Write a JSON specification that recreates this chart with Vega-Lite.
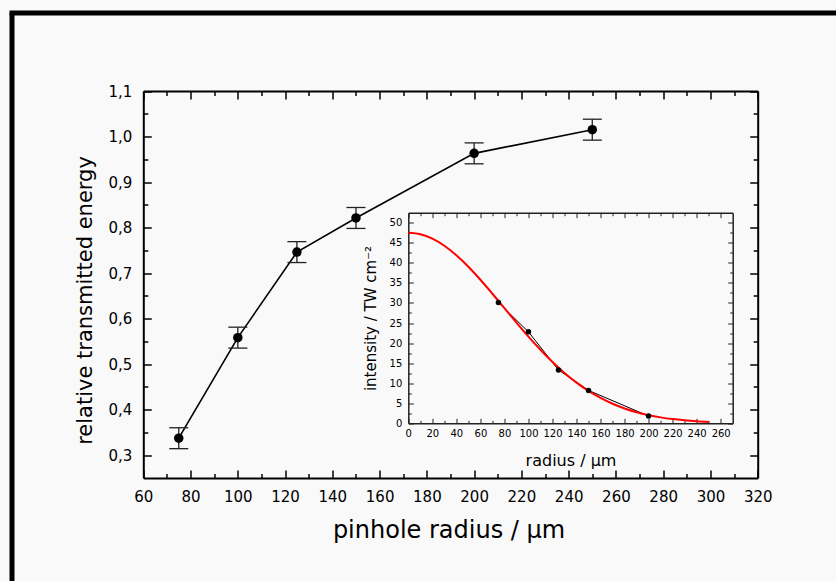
{
  "$schema": "https://vega.github.io/schema/vega-lite/v6.json",
  "width": 824.5,
  "height": 568.5,
  "autosize": {"type": "none"},
  "padding": {"left": 11.5, "top": 12.5, "right": 0, "bottom": 0},
  "background": "#f9f9f9",
  "config": {
    "view": {"stroke": null},
    "axis": {
      "grid": false,
      "labelFont": "DejaVu Sans",
      "titleFont": "DejaVu Sans",
      "titleFontWeight": "normal",
      "labelColor": "#000",
      "titleColor": "#000",
      "domainColor": "#000",
      "tickColor": "#000",
      "labelOverlap": false,
      "labelFlush": false
    }
  },
  "datasets": {
    "main": [
      {"r": 75, "e": 0.337, "lo": 0.314, "hi": 0.360},
      {"r": 100, "e": 0.558, "lo": 0.535, "hi": 0.581},
      {"r": 125, "e": 0.746, "lo": 0.723, "hi": 0.769},
      {"r": 150, "e": 0.821, "lo": 0.798, "hi": 0.844},
      {"r": 200, "e": 0.963, "lo": 0.940, "hi": 0.986},
      {"r": 250, "e": 1.015, "lo": 0.992, "hi": 1.038}
    ],
    "inset": [
      {"r": 75, "I": 30.1},
      {"r": 100, "I": 22.8},
      {"r": 125, "I": 13.3},
      {"r": 150, "I": 8.2},
      {"r": 200, "I": 1.8}
    ],
    "fit": [
      {"r": 0, "I": 47.5}, {"r": 10, "I": 47.13}, {"r": 20, "I": 46.03}, {"r": 30, "I": 44.25},
      {"r": 40, "I": 41.88}, {"r": 50, "I": 39.01}, {"r": 60, "I": 35.78}, {"r": 70, "I": 32.3},
      {"r": 80, "I": 28.7}, {"r": 90, "I": 25.1}, {"r": 100, "I": 21.61}, {"r": 110, "I": 18.32},
      {"r": 120, "I": 15.29}, {"r": 130, "I": 12.56}, {"r": 140, "I": 10.15}, {"r": 150, "I": 8.08},
      {"r": 160, "I": 6.33}, {"r": 170, "I": 4.88}, {"r": 180, "I": 3.7}, {"r": 190, "I": 2.77},
      {"r": 200, "I": 2.04}, {"r": 210, "I": 1.48}, {"r": 220, "I": 1.05}, {"r": 230, "I": 0.74},
      {"r": 240, "I": 0.51}, {"r": 250, "I": 0.35}
    ]
  },
  "layer": [
    {
      "data": {"name": "main"},
      "mark": {"type": "point", "opacity": 0},
      "encoding": {
        "x": {"field": "r", "type": "quantitative", "scale": {"range": [-2.5, 824.5]}, "axis": {"orient": "bottom", "offset": -568.5, "domainWidth": 5, "ticks": false, "labels": false, "title": null}},
        "y": {"field": "e", "type": "quantitative", "axis": {"orient": "left", "offset": 0, "domainWidth": 5, "ticks": false, "labels": false, "title": null}}
      }
    },
    {
      "data": {"name": "main"},
      "layer": [
        {
          "mark": {"type": "line", "color": "#000", "strokeWidth": 1.6},
          "encoding": {
            "x": {"field": "r", "type": "quantitative",
              "scale": {"domain": [60, 320], "range": [131.8, 746.2], "nice": false, "zero": false},
              "axis": {"orient": "bottom", "offset": -103,
                "values": [60,70,80,90,100,110,120,130,140,150,160,170,180,190,200,210,220,230,240,250,260,270,280,290,300,310,320],
                "labelExpr": "datum.value % 20 === 0 ? format(datum.value, 'd') : ''",
                "tickSize": {"condition": {"test": "datum.value % 20 === 0", "value": -8}, "value": -4.5},
                "tickWidth": 1.5, "domainWidth": 2, "labelFontSize": 15, "labelPadding": 19,
                "title": "pinhole radius / μm", "titleFontSize": 24, "titlePadding": 11, "titleX": 437}},
            "y": {"field": "e", "type": "quantitative",
              "scale": {"domain": [0.25, 1.1], "range": [465.3, 78.5], "nice": false, "zero": false},
              "axis": {"orient": "left", "offset": -131.8,
                "values": [0.3,0.35,0.4,0.45,0.5,0.55,0.6,0.65,0.7,0.75,0.8,0.85,0.9,0.95,1.0,1.05,1.1],
                "labelExpr": "abs(datum.value * 10 - round(datum.value * 10)) < 0.001 ? replace(format(datum.value, '.1f'), '.', ',') : ''",
                "tickSize": {"condition": {"test": "abs(datum.value * 10 - round(datum.value * 10)) < 0.001", "value": -8}, "value": -4.5},
                "tickWidth": 1.5, "domainWidth": 2, "labelFontSize": 15, "labelPadding": 19.5,
                "title": "relative transmitted energy", "titleFontSize": 21, "titlePadding": 12, "titleY": 287.5}}
          }
        },
        {
          "mark": {"type": "rule", "color": "#222", "strokeWidth": 1.3},
          "encoding": {
            "x": {"field": "r", "type": "quantitative", "scale": {"domain": [60, 320], "range": [131.8, 746.2], "nice": false, "zero": false}, "axis": null},
            "y": {"field": "lo", "type": "quantitative", "scale": {"domain": [0.25, 1.1], "range": [465.3, 78.5], "nice": false, "zero": false}, "axis": null},
            "y2": {"field": "hi"}
          }
        },
        {
          "mark": {"type": "tick", "orient": "horizontal", "size": 19, "thickness": 1.3, "color": "#222", "opacity": 1},
          "encoding": {
            "x": {"field": "r", "type": "quantitative", "scale": {"domain": [60, 320], "range": [131.8, 746.2], "nice": false, "zero": false}, "axis": null},
            "y": {"field": "lo", "type": "quantitative", "scale": {"domain": [0.25, 1.1], "range": [465.3, 78.5], "nice": false, "zero": false}, "axis": null}
          }
        },
        {
          "mark": {"type": "tick", "orient": "horizontal", "size": 19, "thickness": 1.3, "color": "#222", "opacity": 1},
          "encoding": {
            "x": {"field": "r", "type": "quantitative", "scale": {"domain": [60, 320], "range": [131.8, 746.2], "nice": false, "zero": false}, "axis": null},
            "y": {"field": "hi", "type": "quantitative", "scale": {"domain": [0.25, 1.1], "range": [465.3, 78.5], "nice": false, "zero": false}, "axis": null}
          }
        },
        {
          "mark": {"type": "circle", "color": "#000", "size": 90, "opacity": 1},
          "encoding": {
            "x": {"field": "r", "type": "quantitative",
              "scale": {"domain": [60, 320], "range": [131.8, 746.2], "nice": false, "zero": false},
              "axis": {"orient": "top", "offset": -78.5,
                "values": [60,70,80,90,100,110,120,130,140,150,160,170,180,190,200,210,220,230,240,250,260,270,280,290,300,310,320],
                "labels": false, "title": null,
                "tickSize": {"condition": {"test": "datum.value % 20 === 0", "value": -8}, "value": -4.5},
                "tickWidth": 1.5, "domainWidth": 2}},
            "y": {"field": "e", "type": "quantitative",
              "scale": {"domain": [0.25, 1.1], "range": [465.3, 78.5], "nice": false, "zero": false},
              "axis": {"orient": "right", "offset": -78.3,
                "values": [0.3,0.35,0.4,0.45,0.5,0.55,0.6,0.65,0.7,0.75,0.8,0.85,0.9,0.95,1.0,1.05,1.1],
                "labels": false, "title": null,
                "tickSize": {"condition": {"test": "abs(datum.value * 10 - round(datum.value * 10)) < 0.001", "value": -8}, "value": -4.5},
                "tickWidth": 1.5, "domainWidth": 2}}
          }
        }
      ],
      "resolve": {"axis": {"x": "independent", "y": "independent"}}
    },
    {
      "layer": [
        {
          "data": {"name": "inset"},
          "mark": {"type": "line", "color": "#000", "strokeWidth": 1},
          "encoding": {
            "x": {"field": "r", "type": "quantitative",
              "scale": {"domain": [0, 270], "range": [396.8, 721.2], "nice": false, "zero": false},
              "axis": {"orient": "bottom", "offset": -157.7,
                "values": [0,10,20,30,40,50,60,70,80,90,100,110,120,130,140,150,160,170,180,190,200,210,220,230,240,250,260],
                "labelExpr": "datum.value % 20 === 0 ? format(datum.value, 'd') : ''",
                "tickSize": {"condition": {"test": "datum.value % 20 === 0", "value": -5}, "value": -3},
                "tickWidth": 1, "domainWidth": 1.5, "domainColor": "#222", "tickColor": "#222", "labelFontSize": 10, "labelPadding": 10,
                "title": "radius / μm", "titleFontSize": 16, "titlePadding": 12}},
            "y": {"field": "I", "type": "quantitative",
              "scale": {"domain": [0, 52.5], "range": [410.8, 200.2], "nice": false, "zero": false},
              "axis": {"orient": "left", "offset": -396.8,
                "values": [0,2.5,5,7.5,10,12.5,15,17.5,20,22.5,25,27.5,30,32.5,35,37.5,40,42.5,45,47.5,50],
                "labelExpr": "datum.value % 5 === 0 ? format(datum.value, 'd') : ''",
                "tickSize": {"condition": {"test": "datum.value % 5 === 0", "value": -5}, "value": -3},
                "tickWidth": 1, "domainWidth": 1.5, "domainColor": "#222", "tickColor": "#222", "labelFontSize": 10, "labelPadding": 11.5,
                "title": "intensity / TW cm⁻²", "titleFontSize": 15, "titlePadding": 11}}
          }
        },
        {
          "data": {"name": "fit"},
          "mark": {"type": "line", "color": "#ff0000", "strokeWidth": 2, "interpolate": "monotone"},
          "encoding": {
            "x": {"field": "r", "type": "quantitative", "scale": {"domain": [0, 270], "range": [396.8, 721.2], "nice": false, "zero": false}, "axis": null},
            "y": {"field": "I", "type": "quantitative", "scale": {"domain": [0, 52.5], "range": [410.8, 200.2], "nice": false, "zero": false}, "axis": null}
          }
        },
        {
          "data": {"name": "inset"},
          "mark": {"type": "circle", "color": "#000", "size": 30, "opacity": 1},
          "encoding": {
            "x": {"field": "r", "type": "quantitative",
              "scale": {"domain": [0, 270], "range": [396.8, 721.2], "nice": false, "zero": false},
              "axis": {"orient": "top", "offset": -200.2,
                "values": [0,10,20,30,40,50,60,70,80,90,100,110,120,130,140,150,160,170,180,190,200,210,220,230,240,250,260],
                "labels": false, "title": null,
                "tickSize": {"condition": {"test": "datum.value % 20 === 0", "value": -5}, "value": -3},
                "tickWidth": 1, "domainWidth": 1.5, "domainColor": "#222", "tickColor": "#222"}},
            "y": {"field": "I", "type": "quantitative",
              "scale": {"domain": [0, 52.5], "range": [410.8, 200.2], "nice": false, "zero": false},
              "axis": {"orient": "right", "offset": -103.3,
                "values": [0,2.5,5,7.5,10,12.5,15,17.5,20,22.5,25,27.5,30,32.5,35,37.5,40,42.5,45,47.5,50],
                "labels": false, "title": null,
                "tickSize": {"condition": {"test": "datum.value % 5 === 0", "value": -5}, "value": -3},
                "tickWidth": 1, "domainWidth": 1.5, "domainColor": "#222", "tickColor": "#222"}}
          }
        }
      ],
      "resolve": {"axis": {"x": "independent", "y": "independent"}}
    }
  ],
  "resolve": {
    "scale": {"x": "independent", "y": "independent"},
    "axis": {"x": "independent", "y": "independent"}
  }
}
